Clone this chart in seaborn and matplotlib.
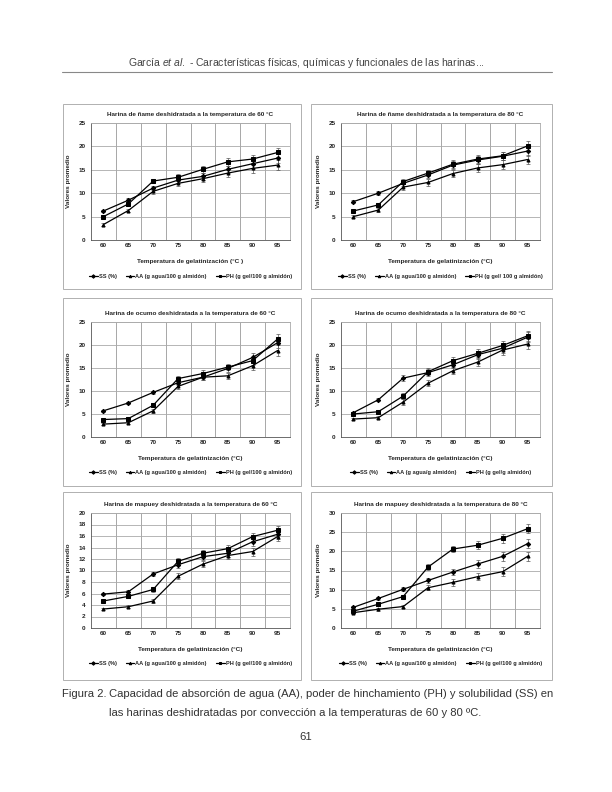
import numpy as np
import pandas as pd
import matplotlib
matplotlib.use("Agg")
import matplotlib.pyplot as plt
import seaborn as sns
from matplotlib.patches import Rectangle

temps = [60, 65, 70, 75, 80, 85, 90, 95]

# ñame 60 °C
name60_ss = [6.2, 8.5, 11.1, 12.8, 13.6, 15.1, 16.3, 17.5]
name60_aa = [3.3, 6.3, 10.4, 12.1, 13.1, 14.3, 15.3, 16.0]
name60_ph = [5.0, 7.7, 12.6, 13.4, 15.1, 16.7, 17.3, 18.7]
name60_err = [0.3, 0.4, 0.5, 0.6, 0.7, 0.8, 0.9, 1.0]

# ñame 80 °C
name80_ss = [8.2, 10.0, 12.1, 13.9, 16.0, 17.1, 17.9, 19.0]
name80_aa = [5.0, 6.4, 11.3, 12.3, 14.2, 15.4, 16.1, 17.2]
name80_ph = [6.2, 7.5, 12.5, 14.3, 16.2, 17.3, 18.0, 20.1]
name80_err = [0.3, 0.4, 0.6, 0.7, 0.8, 0.8, 0.9, 1.0]

# ocumo 60 °C
ocumo60_ss = [5.7, 7.4, 9.7, 11.8, 13.0, 14.9, 17.3, 20.5]
ocumo60_aa = [2.8, 3.1, 5.7, 11.0, 13.0, 13.3, 15.5, 18.8]
ocumo60_ph = [3.8, 4.0, 6.9, 12.7, 13.8, 15.2, 16.6, 21.3]
ocumo60_err = [0.2, 0.3, 0.4, 0.6, 0.7, 0.7, 0.9, 1.1]

# ocumo 80 °C
ocumo80_ss = [5.3, 8.1, 12.8, 14.0, 15.7, 17.9, 19.3, 21.7]
ocumo80_aa = [3.9, 4.2, 7.6, 11.7, 14.4, 16.3, 18.9, 20.2]
ocumo80_ph = [5.0, 5.5, 8.9, 14.2, 16.6, 18.2, 19.9, 22.0]
ocumo80_err = [0.2, 0.3, 0.6, 0.7, 0.8, 0.9, 1.0, 1.1]

# mapuey 60 °C
mapuey60_ss = [5.9, 6.3, 9.4, 11.0, 12.4, 13.0, 15.0, 16.3]
mapuey60_aa = [3.3, 3.7, 4.7, 9.0, 11.1, 12.6, 13.3, 15.9]
mapuey60_ph = [4.7, 5.5, 6.7, 11.6, 13.0, 13.8, 15.9, 17.0]
mapuey60_err = [0.2, 0.3, 0.4, 0.5, 0.5, 0.6, 0.7, 0.8]

# mapuey 80 °C
mapuey80_ss = [5.4, 7.7, 10.1, 12.4, 14.6, 16.7, 18.7, 22.0]
mapuey80_aa = [4.0, 4.9, 5.6, 10.5, 11.9, 13.4, 14.7, 18.7]
mapuey80_ph = [4.4, 6.2, 8.2, 15.9, 20.6, 21.6, 23.4, 25.9]
mapuey80_err = [0.3, 0.4, 0.5, 0.7, 0.9, 1.0, 1.1, 1.2]

legend_std = ["SS (%)", "AA (g agua/100 g almidón)", "PH (g gel/100 g almidón)"]
legend_n80 = ["SS (%)", "AA (g agua/100 g almidón)", "PH (g gel/ 100 g almidón)"]
legend_o80 = ["SS (%)", "AA (g agua/g almidón)", "PH (g gel/g almidón)"]

panels = [
    ("Harina de ñame deshidratada a la temperatura de 60 °C", name60_ss, name60_aa, name60_ph, name60_err, 25, 5, legend_std, "Temperatura de gelatinización (°C )"),
    ("Harina de ñame deshidratada a la temperatura de 80 °C", name80_ss, name80_aa, name80_ph, name80_err, 25, 5, legend_n80, "Temperatura de gelatinización (°C)"),
    ("Harina de ocumo deshidratada a la temperatura de 60 °C", ocumo60_ss, ocumo60_aa, ocumo60_ph, ocumo60_err, 25, 5, legend_std, "Temperatura de gelatinización (°C)"),
    ("Harina de ocumo deshidratada a la temperatura de 80 °C", ocumo80_ss, ocumo80_aa, ocumo80_ph, ocumo80_err, 25, 5, legend_o80, "Temperatura de gelatinización (°C)"),
    ("Harina de mapuey deshidratada a la temperatura de 60 °C", mapuey60_ss, mapuey60_aa, mapuey60_ph, mapuey60_err, 20, 2, legend_std, "Temperatura de gelatinización (°C)"),
    ("Harina de mapuey deshidratada a la temperatura de 80 °C", mapuey80_ss, mapuey80_aa, mapuey80_ph, mapuey80_err, 30, 5, legend_std, "Temperatura de gelatinización (°C)"),
]

sns.set_style("white")
plt.rcParams['font.family'] = ['Liberation Sans', 'DejaVu Sans']
plt.rcParams['mathtext.fontset'] = 'custom'
plt.rcParams['mathtext.rm'] = 'Liberation Sans'
plt.rcParams['mathtext.it'] = 'Liberation Sans:italic'

fig = plt.figure(figsize=(6.12, 7.92), dpi=100)
W, H = 612, 792

def fx(px):
    return px / W

def fy(py):
    return 1 - py / H

# header
fig.text(0.5, fy(63), "García $\\it{et\\ al.}$ - Características físicas, químicas y funcionales de las harinas...",
         ha='center', va='center', fontsize=7.5, color='#444444')
fig.add_artist(plt.Line2D([fx(62), fx(552)], [fy(72), fy(72)], color='#888888', lw=0.8))

col_x = [(63, 301, 91, 290), (311, 552, 341, 540)]
row_y = [(104, 289, 123, 240), (298, 486, 322, 437), (492, 680, 513, 628)]
markers = ['D', '^', 's']

for i, (title, ss, aa, ph, err, ymax, ystep, labels, xlab) in enumerate(panels):
    r, c = divmod(i, 2)
    fl, fr, al, ar = col_x[c]
    ft, fb, at, ab = row_y[r]
    # panel frame
    fig.add_artist(Rectangle((fx(fl), fy(fb)), fx(fr - fl), (fb - ft) / H,
                             fill=False, edgecolor='#b0b0b0', lw=0.7, transform=fig.transFigure))
    ax = fig.add_axes([fx(al), fy(ab), fx(ar - al), (ab - at) / H])
    df = pd.DataFrame({
        'Temperatura': temps * 3,
        'Valor': ss + aa + ph,
        'Serie': [labels[0]] * 8 + [labels[1]] * 8 + [labels[2]] * 8,
    })
    sns.lineplot(data=df, x='Temperatura', y='Valor', hue='Serie', style='Serie',
                 palette=['black'] * 3, markers=markers, dashes=False,
                 markersize=2.2, linewidth=0.9, markeredgecolor='black', ax=ax, zorder=3)
    for vals in (ss, aa, ph):
        ax.errorbar(temps, vals, yerr=err, fmt='none', ecolor='#555555', elinewidth=0.5,
                    capsize=1.2, capthick=0.5, zorder=2)
    ax.set_xlim(57.5, 97.5)
    ax.set_ylim(0, ymax)
    ax.set_yticks(np.arange(0, ymax + 0.1, ystep))
    ax.set_xticks(temps)
    ax.set_xticks(np.arange(62.5, 97.5, 5), minor=True)
    ax.grid(True, which='major', axis='y', color='#aaaaaa', lw=0.6)
    ax.grid(True, which='minor', axis='x', color='#999999', lw=0.6)
    ax.grid(False, which='major', axis='x')
    ax.tick_params(axis='both', which='major', labelsize=4.6, length=2, width=0.5, pad=2)
    ax.tick_params(axis='x', which='both', length=0)
    for lab in ax.get_xticklabels() + ax.get_yticklabels():
        lab.set_fontweight('bold')
    for side in ['top', 'right']:
        ax.spines[side].set_color('#aaaaaa')
        ax.spines[side].set_linewidth(0.6)
    ax.spines['left'].set_color('#555555')
    ax.spines['bottom'].set_color('#555555')
    ax.spines['left'].set_linewidth(0.6)
    ax.spines['bottom'].set_linewidth(0.6)
    ax.set_title(title, fontsize=4.6, fontweight='bold', pad=5)
    ax.set_xlabel(xlab, fontsize=4.6, fontweight='bold', labelpad=8)
    ax.set_ylabel("Valores promedio", fontsize=4.6, fontweight='bold', labelpad=5)
    leg = ax.legend(loc='upper center', bbox_to_anchor=(0.5, -0.27), ncol=3, frameon=False,
                    prop={'size': 4.1, 'weight': 'bold'}, handlelength=1.5, handletextpad=0.2,
                    columnspacing=1.6, borderaxespad=0, markerscale=0.8)

# caption
fig.text(fx(62), fy(694), "Figura 2.", ha='left', va='center', fontsize=8.1, color='#333333')
fig.text(fx(109), fy(694), "Capacidad de absorción de agua (AA), poder de hinchamiento (PH) y solubilidad (SS) en",
         ha='left', va='center', fontsize=8.1, color='#333333')
fig.text(fx(109), fy(713), "las harinas deshidratadas por convección a la temperaturas de 60 y 80 ºC.",
         ha='left', va='center', fontsize=8.1, color='#333333')
fig.text(fx(306), fy(737), "61", ha='center', va='center', fontsize=8.1, color='#333333')

fig.savefig("out.png", dpi=100)
